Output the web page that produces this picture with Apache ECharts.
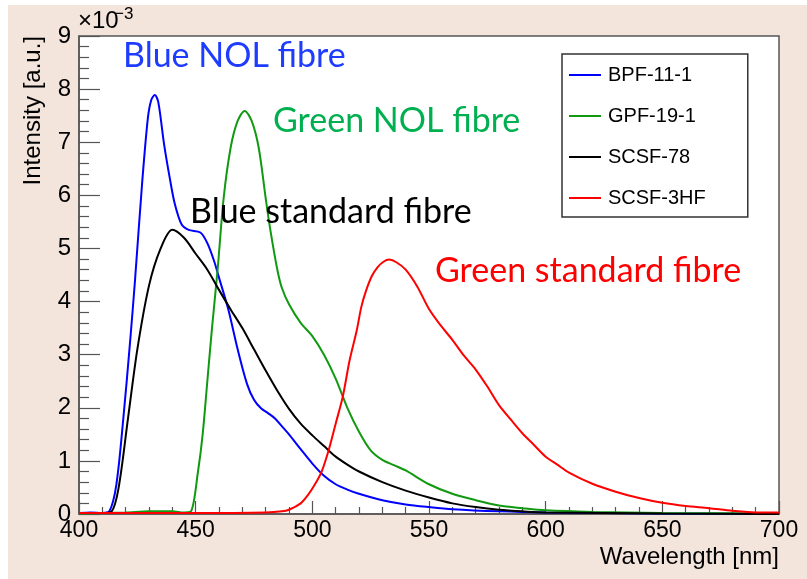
<!DOCTYPE html>
<html>
<head>
<meta charset="utf-8">
<script src="https://cdn.jsdelivr.net/npm/echarts@6/dist/echarts.min.js"></script>
<style>
  html, body { margin: 0; background: #fff }
  #bg { position: absolute; left: 8px; top: 5px; right: 0; bottom: 0; background: #f3e4dc }
  #chart { position: absolute; left: 0; top: 0; width: 807px; height: 579px }
</style>
</head>
<body>
<div id="bg"></div>
<div id="chart"></div>
<script>
// wavelength [nm] / intensity [x1e-3 a.u.]
const bpfNm = [400, 405, 410, 413, 416, 419, 422, 424, 427, 429.5, 431, 432.5, 434, 436.5, 439, 441, 444, 447, 452, 455, 458, 460, 464, 468, 472, 475, 478, 481, 484, 487, 490, 495, 500, 505, 510, 515, 520, 530, 540, 550, 560, 580, 600, 650, 700]
const bpfVal = [0.02, 0.03, 0.02, 0.05, 0.55, 1.8, 3.3, 4.4, 6.2, 7.45, 7.8, 7.89, 7.75, 6.95, 6.3, 5.85, 5.45, 5.35, 5.3, 5.1, 4.75, 4.45, 3.85, 3.1, 2.45, 2.15, 1.99, 1.9, 1.8, 1.65, 1.5, 1.22, 0.95, 0.72, 0.56, 0.46, 0.38, 0.26, 0.18, 0.13, 0.09, 0.05, 0.03, 0.01, 0]

const gpfNm = [400, 420, 430, 440, 445, 448, 451, 453, 455, 457, 459.5, 462, 465, 468, 471, 474, 477, 480, 482, 485, 487, 490, 495, 500, 505, 510, 515, 520, 525, 530, 535, 540, 550, 560, 570, 580, 590, 600, 620, 650, 700]
const gpfVal = [0.01, 0.03, 0.05, 0.05, 0.03, 0.05, 0.8, 1.5, 2.5, 3.5, 4.65, 5.95, 6.9, 7.4, 7.59, 7.4, 6.9, 5.95, 5.35, 4.6, 4.25, 3.95, 3.6, 3.35, 3.0, 2.55, 2.0, 1.55, 1.2, 1.02, 0.92, 0.82, 0.56, 0.38, 0.26, 0.16, 0.11, 0.07, 0.04, 0.02, 0.01]

const scsf78Nm = [400, 410, 414, 417, 421, 425, 430, 435, 440, 445, 450, 455, 460, 465, 470, 475, 480, 485, 490, 495, 500, 505, 510, 515, 520, 530, 540, 550, 560, 570, 580, 590, 600, 650, 700]
const scsf78Val = [0.02, 0.02, 0.05, 0.5, 1.8, 3.1, 4.3, 5.0, 5.35, 5.2, 4.9, 4.6, 4.22, 3.85, 3.5, 3.1, 2.7, 2.32, 1.98, 1.7, 1.48, 1.28, 1.08, 0.93, 0.8, 0.6, 0.44, 0.31, 0.2, 0.13, 0.08, 0.05, 0.03, 0.01, 0]

const scsf3Nm = [400, 450, 480, 487, 490, 495, 498, 501, 504, 507, 510, 513, 516, 519, 521, 523, 525.5, 528, 530.5, 533, 536, 540, 545, 550, 555, 560, 565, 570, 575, 580, 585, 590, 595, 600, 605, 610, 620, 630, 640, 650, 660, 670, 680, 690, 700]
const scsf3Val = [0.02, 0.02, 0.03, 0.05, 0.08, 0.2, 0.35, 0.55, 0.8, 1.2, 1.7, 2.2, 2.9, 3.45, 3.9, 4.2, 4.48, 4.65, 4.75, 4.79, 4.74, 4.6, 4.28, 3.86, 3.55, 3.28, 2.98, 2.72, 2.4, 2.05, 1.78, 1.52, 1.3, 1.08, 0.93, 0.78, 0.57, 0.42, 0.3, 0.21, 0.15, 0.11, 0.06, 0.03, 0.03]

const seriesNames = ['BPF-11-1', 'GPF-19-1', 'SCSF-78', 'SCSF-3HF']
const seriesColors = ['#0000ff', '#119911', '#000000', '#ff0000']

const xTicks = { min: 400, max: 700, step: 50 }
const yTicks = { min: 0, max: 9, step: 1 }

const notes = [
  { text: 'Blue NOL fibre', color: '#1e3cff', x: 123, y: 56 },
  { text: 'Green NOL fibre', color: '#00b050', x: 273, y: 121 },
  { text: 'Blue standard fibre', color: '#000000', x: 190, y: 212 },
  { text: 'Green standard fibre', color: '#ff0000', x: 435, y: 271 }
]

function pairs (xs, ys) {
  return xs.map((x, i) => [x, ys[i]])
}

const helv = 'Liberation Sans, Arial, sans-serif'
const frame = '#555'

const chart = echarts.init(document.getElementById('chart'), null, { renderer: 'canvas' })

chart.setOption({
  animation: false,
  backgroundColor: 'transparent',
  grid: {
    left: 79,
    right: 28,
    top: 36,
    bottom: 65,
    show: true,
    backgroundColor: '#fff',
    borderColor: frame,
    borderWidth: 1.5
  },
  legend: {
    orient: 'vertical',
    left: 562,
    top: 54,
    data: seriesNames,
    icon: 'rect',
    itemWidth: 32,
    itemHeight: 2,
    itemGap: 21,
    padding: [11, 42, 9, 7],
    backgroundColor: '#fff',
    borderColor: '#333',
    borderWidth: 1.5,
    textStyle: { fontFamily: helv, fontSize: 20, color: '#000', lineHeight: 20, padding: [0, 0, 0, 2] }
  },
  xAxis: {
    type: 'value',
    min: xTicks.min,
    max: xTicks.max,
    interval: xTicks.step,
    axisLine: { lineStyle: { color: frame, width: 1.5 } },
    axisTick: { inside: true, length: 13, lineStyle: { color: frame, width: 1.2 } },
    minorTick: { show: true, splitNumber: 5, length: 7, lineStyle: { color: frame, width: 1.2 } },
    splitLine: { show: false },
    axisLabel: { fontFamily: helv, fontSize: 23, color: '#000', margin: 5 }
  },
  yAxis: {
    type: 'value',
    min: yTicks.min,
    max: yTicks.max,
    interval: yTicks.step,
    axisLine: { show: true, lineStyle: { color: frame, width: 1.5 } },
    axisTick: { inside: true, length: 21, lineStyle: { color: frame, width: 1.2 } },
    minorTick: { show: true, splitNumber: 5, length: 10, lineStyle: { color: frame, width: 1.2 } },
    splitLine: { show: false },
    axisLabel: { fontFamily: helv, fontSize: 24, color: '#000', margin: 8 }
  },
  graphic: [
    {
      type: 'text',
      left: 78,
      top: 9,
      style: { text: '×10', fontFamily: helv, fontSize: 24, fill: '#000' }
    },
    {
      type: 'text',
      left: 114,
      top: 6,
      style: { text: '−3', fontFamily: helv, fontSize: 17, fill: '#000' }
    },
    {
      type: 'text',
      x: 33,
      y: 36,
      rotation: Math.PI / 2,
      style: { text: 'Intensity [a.u.]', fontFamily: helv, fontSize: 24, fill: '#000', align: 'right', verticalAlign: 'middle' }
    },
    {
      type: 'text',
      x: 779,
      y: 557,
      style: { text: 'Wavelength [nm]', fontFamily: helv, fontSize: 24, fill: '#000', align: 'right', verticalAlign: 'middle' }
    }
  ].concat(notes.map(n => ({
    type: 'text',
    x: n.x,
    y: n.y,
    z: 10,
    style: { text: n.text, fontFamily: 'Lato, sans-serif', fontSize: 34, fill: n.color, verticalAlign: 'middle' }
  }))),
  series: [
    [bpfNm, bpfVal],
    [gpfNm, gpfVal],
    [scsf78Nm, scsf78Val],
    [scsf3Nm, scsf3Val]
  ].map(([xs, ys], i) => ({
    name: seriesNames[i],
    type: 'line',
    data: pairs(xs, ys),
    showSymbol: false,
    symbol: 'none',
    smooth: 0.3,
    color: seriesColors[i],
    lineStyle: { width: 2, color: seriesColors[i] }
  }))
})

window.addEventListener('resize', () => chart.resize())
</script>
</body>
</html>
